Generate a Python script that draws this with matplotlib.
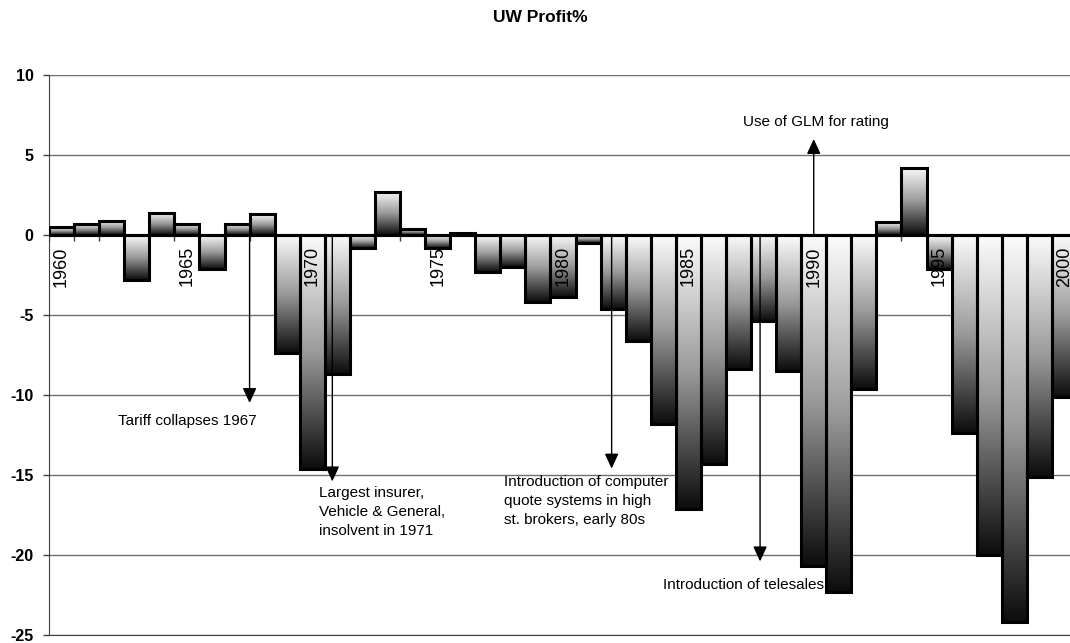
import matplotlib.pyplot as plt
import numpy as np
from matplotlib.colors import LinearSegmentedColormap

plt.rcParams['font.family'] = ['Liberation Sans', 'DejaVu Sans']

years = list(range(1960, 2001))
uw_profit = [0.5, 0.7, 0.9, -2.8, 1.4, 0.7, -2.1, 0.7, 1.3, -7.4,
             -14.6, -8.7, -0.8, 2.7, 0.4, -0.8, 0.15, -2.3, -2.0, -4.2,
             -3.9, -0.5, -4.6, -6.6, -11.8, -17.1, -14.3, -8.4, -5.4, -8.5,
             -20.7, -22.3, -9.6, 0.8, 4.2, -2.1, -12.4, -20.0, -24.2, -15.1,
             -10.1]
year_labels = [1960, 1965, 1970, 1975, 1980, 1985, 1990, 1995, 2000]

# (text, arrow x, arrow tip y, text x, text y, alignment)
notes = [
    ('Tariff collapses 1967', 7.5, -10.5, 2.25, -11.65, 'left', 'center'),
    ('Largest insurer,\nVehicle & General,\ninsolvent in 1971', 10.8, -15.4, 10.27, -15.7, 'left', 'top'),
    ('Introduction of computer\nquote systems in high\nst. brokers, early 80s', 21.94, -14.6, 17.65, -15.0, 'left', 'top'),
    ('Introduction of telesales', 27.86, -20.4, 30.4, -21.9, 'right', 'center'),
    ('Use of GLM for rating', 30.0, 6.0, 30.1, 7.05, 'center', 'center'),
]

fig = plt.figure(figsize=(10.7, 6.43), dpi=100)
ax = fig.add_axes([49 / 1070, 8 / 643, 1028 / 1070, 560 / 643])

x = np.arange(len(years))
shade = LinearSegmentedColormap.from_list('shade', ['#fbfbfb', '#9a9a9a', '#0c0c0c'])
grad = np.linspace(0, 1, 256).reshape(-1, 1)

# small ticks at category boundaries, hidden behind the bars
ax.vlines(np.arange(len(years) + 1) - 0.5, 0, -0.38, color='#404040', lw=1, zorder=1)

bars = ax.bar(x, uw_profit, width=1.0, fill=False, edgecolor='black', linewidth=2.2, zorder=4)
for r in bars:
    x0, w = r.get_x(), r.get_width()
    y0, h = r.get_y(), r.get_height()
    lo, hi = min(y0, y0 + h), max(y0, y0 + h)
    ax.imshow(grad, cmap=shade, extent=(x0, x0 + w, lo, hi), aspect='auto',
              origin='upper', zorder=3, interpolation='bilinear')

ax.axhline(0, color='black', lw=2.2, zorder=5)

for yr in year_labels:
    i = years.index(yr)
    ax.text(x[i], -0.7, str(yr), rotation=90, ha='center', va='top',
            fontsize=13, zorder=6)

for txt, ax_x, tip_y, tx, ty, ha, va in notes:
    ax.annotate('', xy=(ax_x, tip_y), xytext=(ax_x, 0),
                arrowprops=dict(arrowstyle='-|>,head_width=0.3,head_length=0.65',
                                color='black', lw=1, shrinkA=0, shrinkB=0,
                                mutation_scale=14),
                zorder=7)
    ax.text(tx, ty, txt, ha=ha, va=va, fontsize=11, linespacing=1.45, zorder=8)

ax.set_xlim(-0.5, len(years) - 0.5)
ax.set_ylim(-25, 10)
ax.set_yticks(range(-25, 11, 5))
ax.set_yticklabels([str(v) for v in range(-25, 11, 5)], fontweight='bold', fontsize=11.5)
ax.set_xticks([])
ax.tick_params(axis='y', length=4, width=1, color='#404040', pad=7)
ax.yaxis.grid(True, color='#707070', lw=1)
ax.set_axisbelow(True)
for s in ['top', 'right']:
    ax.spines[s].set_visible(False)
ax.spines['left'].set_color('#404040')
ax.spines['bottom'].set_color('#404040')

fig.text(0.505, 0.973, 'UW Profit%', ha='center', va='center', fontsize=12.5, fontweight='bold')

fig.savefig('out.png', dpi=100)
